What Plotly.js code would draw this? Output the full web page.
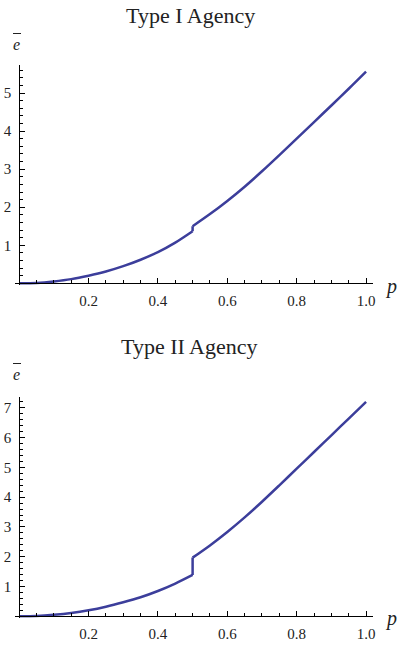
<!DOCTYPE html>
<html>
<head>
<meta charset="utf-8">
<script>window.__errs=[];window.addEventListener('error',e=>window.__errs.push(String(e.message)));</script>
<script src="https://cdn.plot.ly/plotly-3.0.1.min.js"></script>
<style>
html,body{margin:0;padding:0;background:#fff;}
#chart{width:399px;height:646px;}
.lbl{position:absolute;transform:translate(-50%,-50%);font-family:'Liberation Serif','Times New Roman',serif;font-style:italic;color:#222;line-height:1;white-space:nowrap;}
.ovbar{position:absolute;height:0;border-top:1.2px solid #222;}
#state{position:absolute;left:0;top:0;width:0;height:0;}
</style>
</head>
<body>
<div id="chart"></div>
<div class="lbl" style="left:392px;top:286px;font-size:20px;">p</div>
<div class="lbl" style="left:392px;top:618px;font-size:20px;">p</div>
<div class="lbl" style="left:16.5px;top:45px;font-size:16px;">e</div>
<div class="lbl" style="left:16.5px;top:375px;font-size:16px;">e</div>
<div class="ovbar" style="left:13px;top:33px;width:8px;"></div>
<div class="ovbar" style="left:13px;top:363px;width:8px;"></div>
<div id="state"></div>
<script>
// p values (0.5 appears twice: the jump)
const p = [0, 0.05, 0.1, 0.15, 0.2, 0.25, 0.3, 0.35, 0.4, 0.45, 0.5,
           0.5, 0.55, 0.6, 0.65, 0.7, 0.75, 0.8, 0.85, 0.9, 0.95, 1.0];
// Type I Agency
const eTypeI = [0, 0.01, 0.05, 0.11, 0.2, 0.31, 0.45, 0.62, 0.82, 1.07, 1.37,
                1.50, 1.82, 2.165, 2.54, 2.945, 3.37, 3.805, 4.24, 4.675, 5.115, 5.565];
// Type II Agency
const eTypeII = [0, 0.01, 0.05, 0.11, 0.2, 0.32, 0.47, 0.64, 0.85, 1.1, 1.39,
                 1.97, 2.38, 2.83, 3.32, 3.845, 4.395, 4.955, 5.515, 6.075, 6.635, 7.195];
const xTickVals = [0.2, 0.4, 0.6, 0.8, 1.0];
const xTickText = ["0.2", "0.4", "0.6", "0.8", "1.0"];
const yTickValsI = [1, 2, 3, 4, 5];
const yTickValsII = [1, 2, 3, 4, 5, 6, 7];
const titles = ["Type I Agency", "Type II Agency"];

const lineColor = "rgb(60,62,155)";
const serif = "'Liberation Serif', 'Times New Roman', serif";
const W = 399, H = 646, ML = 15, MR = 26;
const PW = W - ML - MR;
const px = v => (v - ML) / PW;
const py = v => (H - v) / H;
const JUMP = 10; // index where left branch ends

function branchTraces(ys, xa, ya) {
  const seg = (a, b, shape) => ({
    x: p.slice(a, b), y: ys.slice(a, b), type: "scatter", mode: "lines",
    xaxis: xa, yaxis: ya, hoverinfo: "none",
    line: {color: lineColor, width: 2.5, shape: shape, smoothing: 0.8}
  });
  return [seg(0, JUMP + 1, "spline"), seg(JUMP, JUMP + 2, "linear"), seg(JUMP + 1, p.length, "spline")];
}
const traces = [...branchTraces(eTypeI, "x", "y"), ...branchTraces(eTypeII, "x2", "y2")];

function xAxis(pos) {
  return {
    range: [-0.012, 1.02], domain: [0, 1], anchor: "free", position: pos,
    showline: true, linecolor: "#000", linewidth: 1, showgrid: false, zeroline: false,
    ticks: "inside", ticklen: 5, tickcolor: "#000", tickwidth: 1,
    tickvals: xTickVals, ticktext: xTickText, ticklabelstandoff: 4,
    tickfont: {family: serif, size: 15, color: "#222"},
    minor: {dtick: 0.05, tick0: 0, ticks: "inside", ticklen: 3, tickcolor: "#000", tickwidth: 1, showgrid: false},
    fixedrange: true
  };
}
function yAxis(range, dom, vals) {
  return {
    range: range, domain: dom, anchor: "free", position: 0.012 / 1.032,
    showline: true, linecolor: "#000", linewidth: 1, showgrid: false, zeroline: false,
    ticks: "inside", ticklen: 5, tickcolor: "#000", tickwidth: 1,
    tickvals: vals, ticklabelstandoff: 5,
    tickfont: {family: serif, size: 15, color: "#222"},
    minor: {dtick: 0.2, tick0: 0, ticks: "inside", ticklen: 3, tickcolor: "#000", tickwidth: 1, showgrid: false},
    fixedrange: true
  };
}
const layout = {
  width: W, height: H, margin: {l: ML, r: MR, t: 0, b: 0}, showlegend: false,
  xaxis: xAxis(py(283.3)),
  yaxis: yAxis([-0.05, 5.74], [py(285.2), py(65)], yTickValsI),
  xaxis2: xAxis(py(616.3)),
  yaxis2: yAxis([-0.05, 7.36], [py(617.8), py(397)], yTickValsII),
  annotations: [
    {text: titles[0], xref: "paper", yref: "paper", x: px(190), y: py(15), xanchor: "center", yanchor: "middle", showarrow: false, font: {family: serif, size: 22, color: "#222"}},
    {text: titles[1], xref: "paper", yref: "paper", x: px(189), y: py(346), xanchor: "center", yanchor: "middle", showarrow: false, font: {family: serif, size: 22, color: "#222"}}
  ]
};
Plotly.newPlot("chart", traces, layout, {staticPlot: true}).then(gd => {
  const st = document.getElementById("state");
  st.setAttribute("data-ticks", String(gd.querySelectorAll("path.xtick").length));
  st.style.width = "1px";
}).catch(() => {});
</script>
</body>
</html>
